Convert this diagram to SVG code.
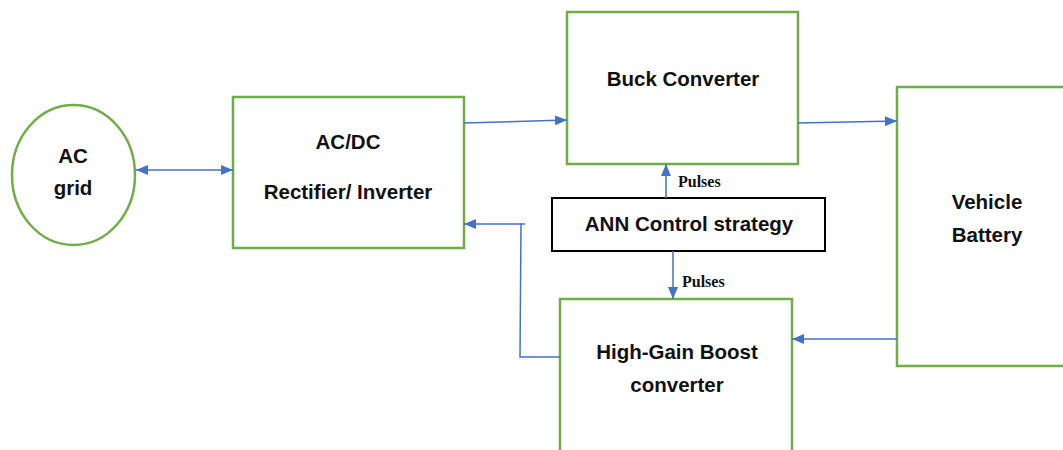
<svg xmlns="http://www.w3.org/2000/svg" width="1063" height="450" viewBox="0 0 1063 450">
  <style>
    .blk { fill: #ffffff; stroke: #70AD47; stroke-width: 2.5; }
    .ctl { fill: #ffffff; stroke: #000000; stroke-width: 2; }
    .lbl { font-family: "Liberation Sans", Arial, sans-serif; font-weight: bold; font-size: 20.5px; fill: #111111; text-anchor: middle; }
    .sig { font-family: "Liberation Serif", "Times New Roman", serif; font-weight: bold; font-size: 16px; fill: #111111; }
    .wire { fill: none; stroke: #4472C4; stroke-width: 1.5; }
  </style>
  <defs>
    <marker id="tip" viewBox="0 0 12 10" refX="12" refY="5" markerWidth="12" markerHeight="10" markerUnits="userSpaceOnUse" orient="auto-start-reverse">
      <path d="M0,0 L12,5 L0,10 z" fill="#4472C4"/>
    </marker>
  </defs>
  <rect width="1063" height="450" fill="#ffffff"/>

  <g id="ac-grid">
    <ellipse class="blk" cx="73.5" cy="175" rx="61.5" ry="70"/>
    <text class="lbl" x="73" y="163">AC</text>
    <text class="lbl" x="73" y="195">grid</text>
  </g>

  <g id="rectifier">
    <rect class="blk" x="233" y="97" width="231" height="151"/>
    <text class="lbl" x="348" y="149">AC/DC</text>
    <text class="lbl" x="348" y="199">Rectifier/ Inverter</text>
  </g>

  <g id="buck">
    <rect class="blk" x="567" y="12" width="231" height="152"/>
    <text class="lbl" x="683" y="86">Buck Converter</text>
  </g>

  <g id="battery">
    <rect class="blk" x="897" y="87" width="180" height="279"/>
    <text class="lbl" x="987" y="209">Vehicle</text>
    <text class="lbl" x="987" y="242">Battery</text>
  </g>

  <g id="boost">
    <rect class="blk" x="560" y="299" width="232" height="170"/>
    <text class="lbl" x="677" y="359">High-Gain Boost</text>
    <text class="lbl" x="677" y="392">converter</text>
  </g>

  <g id="ann">
    <rect class="ctl" x="552" y="198" width="273" height="53"/>
    <text class="lbl" x="689" y="231">ANN Control strategy</text>
  </g>

  <g id="connectors">
    <line class="wire" x1="136" y1="170" x2="233" y2="170" marker-start="url(#tip)" marker-end="url(#tip)"/>
    <line class="wire" x1="464" y1="123" x2="567" y2="120" marker-end="url(#tip)"/>
    <line class="wire" x1="798" y1="123" x2="897" y2="121" marker-end="url(#tip)"/>
    <line class="wire" x1="897" y1="339" x2="792" y2="339" marker-end="url(#tip)"/>
    <line class="wire" x1="666" y1="198" x2="666" y2="164" marker-end="url(#tip)"/>
    <line class="wire" x1="673" y1="251" x2="673" y2="299" marker-end="url(#tip)"/>
    <polyline class="wire" points="560,357 520,357 521,224 525,224"/>
    <line class="wire" x1="521" y1="224" x2="464" y2="224" marker-end="url(#tip)"/>
    <text class="sig" x="678" y="187">Pulses</text>
    <text class="sig" x="682" y="287">Pulses</text>
  </g>
</svg>
